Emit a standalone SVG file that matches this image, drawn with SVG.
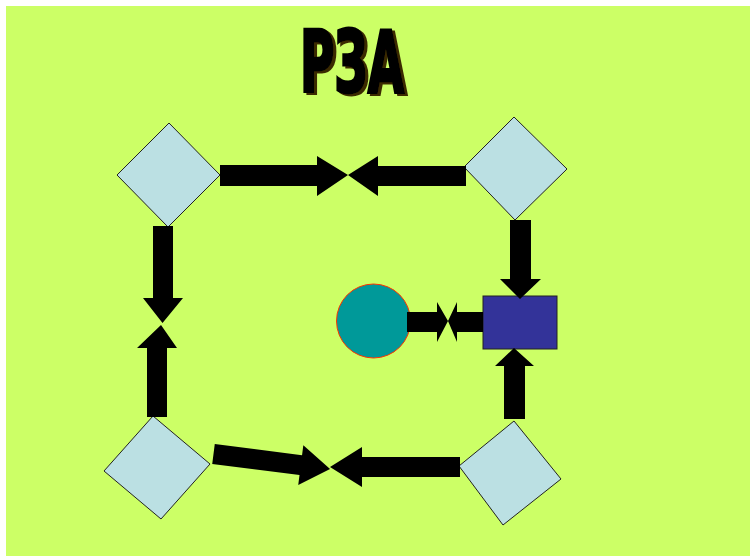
<svg xmlns="http://www.w3.org/2000/svg" width="750" height="558" viewBox="0 0 750 558">
  <style>
    .dia { fill: #BBE0E3; stroke: #222; stroke-width: 1; }
    .arr { fill: #000; }
    .title { font-family: "Liberation Sans Narrow", "DejaVu Sans Condensed", "Liberation Sans", sans-serif; font-weight: bold; font-size: 86px; }
  </style>
  <defs>
    <filter id="shadow" x="-10%" y="-10%" width="130%" height="130%">
      <feFlood flood-color="#3A2A00" result="c"/>
      <feComposite in="c" in2="SourceAlpha" operator="in" result="s"/>
      <feOffset in="s" dx="3" dy="2" result="o"/>
      <feMerge>
        <feMergeNode in="o"/>
        <feMergeNode in="SourceGraphic"/>
      </feMerge>
    </filter>
  </defs>
  <rect x="0" y="0" width="750" height="558" fill="#FFFFFF"/>
  <rect x="6" y="6" width="744" height="550" fill="#CCFF66"/>

  <g id="title" filter="url(#shadow)">
    <text class="title" x="300" y="92" textLength="104" lengthAdjust="spacingAndGlyphs" fill="#000" stroke="#000" stroke-width="3">РЗА</text>
  </g>

  <g id="node-tl"><polygon class="dia" points="169,123 220,175 168,227 117,175"/></g>
  <g id="node-tr"><polygon class="dia" points="514,117 567,169 515,220 464,167"/></g>
  <g id="node-br"><polygon class="dia" points="514,421 561,479 503,525 459,466"/></g>
  <g id="node-bl"><polygon class="dia" points="153,416 210,464 161,519 104,471"/></g>
  <g id="node-circle"><circle cx="373.5" cy="321" r="37" fill="#009999" stroke="#FF3300" stroke-width="1"/></g>
  <g id="node-rect"><rect x="483" y="296" width="74" height="53" fill="#333399" stroke="#222" stroke-width="1"/></g>

  <g id="connectors" class="arr">
    <polygon points="220,165 317,165 317,156 348,175 317,196 317,186 220,186"/>
    <polygon points="466,166 378,166 378,156 348,175 378,196 378,186 466,186"/>
    <polygon points="153,226 173,226 173,298 183,298 162.5,323 143,298 153,298"/>
    <polygon points="147,417 167,417 167,348 177,348 161,325 137,348 147,348"/>
    <polygon points="510,220 531,220 531,279 541,279 520,299 500,279 510,279"/>
    <polygon points="504,419 525,419 525,366 534,366 514,348 495,366 504,366"/>
    <polygon points="407,312 437,312 437,302 448,321 437,342 437,332 407,332"/>
    <polygon points="483,312 457,312 457,302 448,321 457,342 457,332 483,332"/>
    <polygon transform="translate(213.5,454) rotate(7.3)" points="0,-10 88,-10 88,-20 117.5,0 88,20 88,10 0,10"/>
    <polygon points="460,457 362,457 362,447 330,467 362,487 362,477 460,477"/>
  </g>
</svg>
